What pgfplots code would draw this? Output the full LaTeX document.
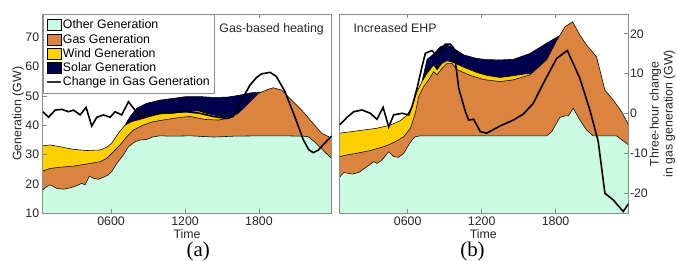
\documentclass[border=0pt]{standalone}
\usepackage{pgfplots}
\pgfplotsset{compat=1.18}
\usepackage{fontspec}
\setmainfont{Liberation Sans}
\newfontfamily\seriffont{Liberation Serif}
\definecolor{othc}{RGB}{202,250,226}
\definecolor{gasc}{RGB}{218,132,64}
\definecolor{windc}{RGB}{255,208,0}
\definecolor{solc}{RGB}{0,0,79}
\definecolor{axc}{RGB}{140,140,140}
\newcommand{\lbl}{\fontsize{12.4}{14}\selectfont}
\pgfplotsset{
 panel/.style={scale only axis, width=289bp, height=199bp, anchor=south west,
   xmin=0.45, xmax=23.9, ymin=10, ymax=77.85,
   axis line style={axc, line width=0.6bp},
   tick style={axc, line width=0.6bp},
   tick align=inside, major tick length=4bp,
   xtick={6,12,18}, xticklabels={0600,1200,1800},
   tick label style={font=\lbl, text=black!85},
   /pgf/number format/assume math mode=true,
   axis on top},
 over/.style={scale only axis, width=289bp, height=199bp, anchor=south west,
   xmin=0.45, xmax=23.9, ymin=-25.15, ymax=24.9,
   axis line style={axc, line width=0.6bp},
   tick style={axc, line width=0.6bp},
   tick align=inside, major tick length=4bp,
   tick label style={font=\lbl, text=black!85},
   /pgf/number format/assume math mode=true},
 ar/.style={draw=black, line width=0.55bp, fill=#1, forget plot},
 chg/.style={draw=black, line width=1.6bp, forget plot},
}
\begin{document}
\begin{tikzpicture}
\useasboundingbox (0,0) rectangle (677bp,261bp);
% ---------------- panel (a) ----------------
\begin{axis}[panel, at={(42.7bp,47.7bp)}, ytick={10,20,...,70}, ytick pos=left,
  legend style={at={(0,1)}, anchor=north west, draw=axc, line width=0.6bp, fill=white,
    inner xsep=3bp, inner ysep=3.5bp, row sep=0pt, font=\lbl, text=black,
    nodes={inner xsep=1bp, inner ysep=1.9bp}},
  legend cell align=left]
\addlegendimage{legend image code/.code={\draw[fill=othc,draw=black,line width=0.5bp] (0bp,-5.5bp) rectangle (14.3bp,5.5bp);}}
\addlegendentry{Other Generation}
\addlegendimage{legend image code/.code={\draw[fill=gasc,draw=black,line width=0.5bp] (0bp,-5.5bp) rectangle (14.3bp,5.5bp);}}
\addlegendentry{Gas Generation}
\addlegendimage{legend image code/.code={\draw[fill=windc,draw=black,line width=0.5bp] (0bp,-5.5bp) rectangle (14.3bp,5.5bp);}}
\addlegendentry{Wind Generation}
\addlegendimage{legend image code/.code={\draw[fill=solc,draw=black,line width=0.5bp] (0bp,-5.5bp) rectangle (14.3bp,5.5bp);}}
\addlegendentry{Solar Generation}
\addlegendimage{legend image code/.code={\draw[draw=black!80,line width=1.6bp] (0bp,0bp) -- (14.3bp,0bp);}}
\addlegendentry{Change in Gas Generation}
% solar top
\addplot[ar=solc] coordinates {(7.14,10) (7.14,40.1) (7.54,43.0) (8.08,45.8) (8.89,47.5) (9.97,48.6) (11.05,49.2) (12.1,49.8) (13.2,49.8) (14.3,49.5) (15.4,49.6) (16.05,50.0) (16.7,50.5) (17.4,51.1) (18.1,51.3) (18.1,10)} -- cycle;
% wind top
\addplot[ar=windc] coordinates {(0.45,10) (0.45,33.0) (1.05,33.3) (1.86,32.7) (2.95,31.8) (4.03,31.4) (5.11,31.6) (5.65,32.5) (6.05,33.9) (6.59,37.3) (7.14,40.1) (7.68,41.25) (8.35,42.0) (9.16,43.0) (9.97,43.9) (11.05,44.1) (11.86,44.7) (12.41,44.7) (13.08,44.9) (13.89,43.9) (14.7,43.2) (15.24,42.7) (15.78,43.0) (15.78,10)} -- cycle;
% gas top
\addplot[ar=gasc] coordinates {(0.45,10) (0.45,24.4) (1.05,25.3) (1.86,25.7) (2.95,26.1) (4.03,26.8) (5.11,27.6) (5.65,28.75) (6.19,31.0) (6.73,33.3) (7.27,36.1) (7.81,38.4) (8.62,40.1) (9.43,41.25) (10.51,42.0) (11.59,42.7) (12.41,43.0) (13.62,42.0) (14.7,41.8) (15.51,42.4) (16.32,44.1) (17.14,47.5) (17.95,50.9) (18.76,52.3) (19.16,52.8) (19.84,52.0) (20.65,48.6) (21.46,45.2) (22.27,41.25) (23.08,37.3) (23.9,35.6) (23.9,10)} -- cycle;
% other top
\addplot[ar=othc] coordinates {(0.45,10) (0.45,18.0) (0.78,19.1) (1.05,19.7) (1.59,18.5) (2.14,18.2) (2.81,18.8) (3.35,19.7) (3.62,20.2) (3.89,19.7) (4.24,22.7) (4.57,21.9) (4.97,21.6) (5.38,22.3) (5.78,23.1) (6.05,24.2) (6.46,27.0) (7.0,29.9) (7.41,32.7) (7.95,34.4) (8.35,35.0) (8.89,35.2) (9.43,36.1) (9.97,36.4) (11,36.3) (12.5,36.4) (14.3,36.0) (16,36.3) (18,36.4) (20,36.4) (21.6,36.3) (22.0,36.1) (22.5,34.4) (23.2,31.5) (23.9,28.6) (23.9,10)} -- cycle;
\node[anchor=north east, inner sep=0pt, xshift=-7.7bp, yshift=-9bp, font=\lbl, text=black!85] at (rel axis cs:1,1) {Gas-based heating};
\end{axis}
\begin{axis}[over, at={(42.7bp,47.7bp)}, hide axis]
\addplot[chg] coordinates {(0.46,0.4) (0.92,-1.0) (1.46,0.8) (2.0,1.0) (2.54,0.4) (2.95,0.8) (3.49,-0.4) (3.97,1.5) (4.43,-3.2) (4.84,-1.0) (5.38,-0.4) (5.92,-1.0) (6.32,0.4) (6.86,-0.4) (7.41,2.9) (7.81,1.3) (8.35,-0.8) (8.89,-0.4) (9.97,0) (11.05,0.2) (12.1,0.4) (13.2,0) (14.3,-0.8) (15.4,-1.3) (15.9,-0.8) (16.3,1.7) (16.8,4.5) (17.27,7.1) (17.8,9.0) (18.2,9.9) (18.9,10.3) (19.4,9.3) (20.1,5.5) (20.9,-0.8) (21.6,-6.7) (22.05,-9.2) (22.4,-9.9) (22.8,-9.3) (23.4,-7.3) (23.9,-5.7)};
\end{axis}
% ---------------- panel (b) ----------------
\begin{axis}[panel, at={(339.3bp,47.7bp)}, ytick=\empty]
\addplot[ar=solc] coordinates {(7.16,10) (7.16,54.9) (7.57,62.5) (8.11,64.3) (8.65,66.8) (9.05,67.4) (9.46,67.0) (10.54,64.0) (11.62,62.8) (12.43,62.4) (13.49,62.3) (14.57,62.5) (15.92,64.5) (17.27,68.0) (18.3,70.5) (18.3,10)} -- cycle;
\addplot[ar=windc] coordinates {(0.45,10) (0.45,37.3) (1.35,37.8) (2.43,38.4) (3.51,39.0) (4.59,40.1) (5.41,41.6) (5.95,43.5) (6.35,46.4) (6.76,51.5) (7.16,54.9) (7.57,57.7) (8.11,60.6) (8.38,58.9) (8.78,61.1) (9.19,62.0) (9.73,61.4) (10.54,59.8) (11.62,58.0) (12.43,57.0) (13.49,56.3) (14.57,56.9) (15.65,57.6) (16.0,57.5) (16.0,10)} -- cycle;
\addplot[ar=gasc] coordinates {(0.45,10) (0.45,29.3) (1.08,29.9) (1.89,30.5) (2.97,31.4) (4.05,32.7) (4.86,34.1) (5.68,36.1) (6.22,39.0) (6.62,44.1) (6.89,49.8) (7.30,53.2) (7.70,55.5) (8.11,58.3) (8.38,57.2) (8.78,59.4) (9.19,61.1) (9.59,61.1) (10.0,59.0) (11.08,57.0) (12.16,55.6) (13.49,54.9) (14.57,55.5) (15.92,57.2) (17.27,62.3) (18.08,68.8) (18.76,73.6) (19.38,75.3) (19.97,70.8) (20.51,67.4) (21.32,63.4) (22.0,52.0) (22.68,48.6) (23.35,44.7) (23.9,40.3) (23.9,10)} -- cycle;
\addplot[ar=othc] coordinates {(0.45,10) (0.45,22.2) (0.81,23.9) (1.49,23.4) (2.03,23.9) (2.70,25.9) (3.24,27.6) (3.51,27.0) (3.92,28.2) (4.46,31.0) (4.86,29.3) (5.27,29.1) (5.68,30.5) (6.08,33.3) (6.35,35.0) (6.62,36.1) (7.0,36.4) (12,36.4) (17.27,36.4) (17.68,37.8) (18.35,42.7) (18.76,43.2) (19.03,43.2) (19.43,45.8) (19.97,41.8) (20.51,38.4) (21.05,36.4) (22.95,36.4) (23.9,33.4) (23.9,10)} -- cycle;
\node[anchor=north west, inner sep=0pt, xshift=14bp, yshift=-9bp, font=\lbl, text=black!85] at (rel axis cs:0,1) {Increased EHP};
\end{axis}
\begin{axis}[over, at={(339.3bp,47.7bp)}, xtick=\empty, ytick={-20,-10,0,10,20}, yticklabels={-20,-10,0,10,20}, ytick pos=right,
  yticklabel style={inner xsep=1.5bp}]
\addplot[chg] coordinates {(0.49,-2.9) (1.08,-1.0) (1.62,0.4) (2.30,0.84) (2.97,0) (3.51,-1.5) (4.0,1.5) (4.46,-3.4) (4.86,-0.4) (5.54,0) (6.08,-0.4) (6.35,1.7) (6.76,6.3) (7.16,11.7) (7.43,15.1) (7.97,15.8) (8.38,14.3) (8.65,15.5) (9.05,17.4) (9.46,17.4) (9.73,16.4) (10.14,6.3) (10.68,0.4) (10.95,-1.7) (11.35,-1.5) (11.89,-4.6) (12.41,-5.0) (13.49,-3.2) (14.57,-1.7) (15.38,-0.2) (16.19,2.5) (17.0,7.5) (18.08,13.8) (18.95,15.8) (19.97,8.8) (20.78,0.84) (21.46,-7.1) (22.0,-20.1) (22.68,-21.8) (23.49,-24.7) (23.95,-22.6)};
\end{axis}
% ---------------- labels ----------------
\node[anchor=base, font=\lbl, text=black!85] at (187bp,23bp) {Time};
\node[anchor=base, font=\lbl, text=black!85] at (483.3bp,23bp) {Time};
\node[rotate=90, font=\lbl, text=black!85] at (18.3bp,147.2bp) {Generation (GW)};
\node[rotate=90, align=center, font=\lbl, text=black!85] at (662.5bp,147.2bp) {Three-hour change\\in gas generation (GW)};
\node[anchor=base, font=\seriffont\fontsize{21}{23}\selectfont] at (198.3bp,4.6bp) {(a)};
\node[anchor=base, font=\seriffont\fontsize{21}{23}\selectfont] at (472.5bp,4.6bp) {(b)};
\end{tikzpicture}
\end{document}
